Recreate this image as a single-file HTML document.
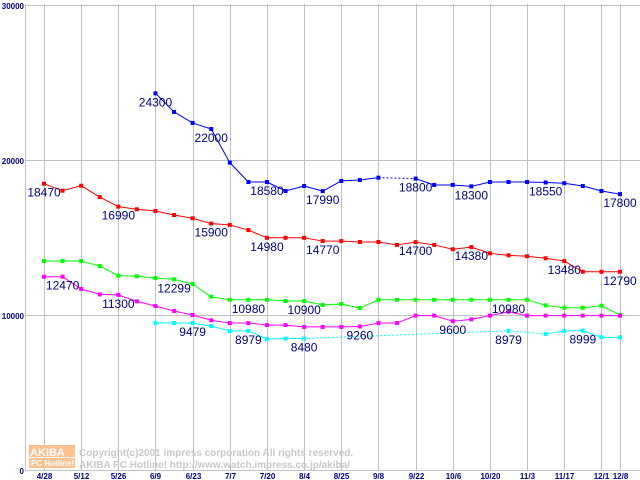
<!DOCTYPE html>
<html><head><meta charset="utf-8"><style>
html,body{margin:0;padding:0;background:#fff;}
svg{display:block;}
text{font-family:"Liberation Sans",sans-serif;}
</style></head><body>
<svg id="chart" width="640" height="480" xmlns="http://www.w3.org/2000/svg"></svg>
<script>
const categories=["4/28","5/5","5/12","5/19","5/26","6/2","6/9","6/16","6/23","6/30","7/7","7/14","7/20","7/27","8/4","8/11","8/25","9/1","9/8","9/15","9/22","9/29","10/6","10/13","10/20","10/27","11/3","11/10","11/17","11/24","12/1","12/8"];
const tickLabels=["4/28","5/12","5/26","6/9","6/23","7/7","7/20","8/4","8/25","9/8","9/22","10/6","10/20","11/3","11/17","12/1","12/8"];
const tickIndex=[0,2,4,6,8,10,12,14,16,18,20,22,24,26,28,30,31];
const yTicks=[0,10000,20000,30000];
const blueValues=[null,null,null,null,null,null,24300,23100,22390,22000,19830,18580,18580,18000,18320,17990,18650,18710,18860,null,18800,18390,18390,18300,18580,18580,18580,18550,18500,18320,18000,17800];
const redValues=[18470,18020,18340,17610,16990,16820,16710,16450,16240,15900,15810,15480,14980,14980,14980,14770,14770,14710,14710,14520,14700,14520,14240,14380,13980,13850,13790,13660,13480,12790,12790,12790];
const greenValues=[13480,13480,13480,13160,12540,12500,12390,12299,12000,11180,10980,10980,10980,10900,10900,10650,10710,10450,10980,10980,10980,10980,10980,10980,10980,10980,10980,10620,10470,10470,10600,10000];
const magentaValues=[12470,12470,11680,11330,11300,10880,10580,10260,10000,9660,9480,9480,9350,9350,9230,9230,9230,9260,9480,9480,9960,9960,9600,9720,9960,10210,9960,9960,9960,9960,9960,9960];
const cyanValues=[null,null,null,null,null,null,9480,9480,9479,9290,8970,8979,8450,8480,8480,null,null,null,null,null,null,null,null,null,null,8979,null,8770,8970,8999,8560,8560];
const seriesNames=["blue","red","green","magenta","cyan"];
const seriesColors=["#0000ff","#ff0000","#00ff00","#ff00ff","#00ffff"];
const seriesData=[blueValues,redValues,greenValues,magentaValues,cyanValues];
const labelSeries=[0,0,0,0,0,0,0,0,1,1,1,1,1,1,1,1,1,2,2,2,2,3,3,3,3,4,4,4,4,4];
const labelIndex=[6,9,12,15,20,23,27,31,0,4,9,12,15,20,23,28,31,7,11,14,25,1,4,17,22,8,11,14,25,29];

const svg=document.getElementById('chart');
const NS='http://www.w3.org/2000/svg';
const X0=44,DX=(620-44)/31,Y0=470,YTOP=5,YMAX=30000;
function xs(i){return X0+DX*i;}
function ys(v){return Y0-(v/YMAX)*(Y0-YTOP);}
function mk(tag,attrs){const e=document.createElementNS(NS,tag);for(const k in attrs)e.setAttribute(k,attrs[k]);svg.appendChild(e);return e;}

yTicks.forEach(v=>{
  const l=mk('line',{x1:25,x2:640,y1:Math.round(ys(v))+0.5,y2:Math.round(ys(v))+0.5,stroke:'#c0c0c0','stroke-width':1});
  
  
  const t=mk('text',{x:24,y:Math.round(ys(v))+4,'text-anchor':'end','font-size':8,'font-weight':'bold',fill:'#000080'});
  t.textContent=String(v);
  
  
});
const ya=mk('line',{x1:25.5,x2:25.5,y1:4,y2:471,stroke:'#c0c0c0'});


tickIndex.forEach((idx,k)=>{
  const x=Math.round(xs(idx))+0.5;
  const l=mk('line',{x1:x,x2:x,y1:4,y2:471,stroke:'#c0c0c0'});
  
  
  const t=mk('text',{x:x,y:479,'text-anchor':'middle','font-size':8,'font-weight':'bold',fill:'#000080'});
  t.textContent=tickLabels[k];
  
  
});

const r1=mk('rect',{x:29,y:445,width:46,height:12,fill:'#ffc090'});


const r2=mk('rect',{x:29,y:458,width:46,height:10,fill:'#ffc090'});


[[30,456,'AKIBA',11,'#fff'],[31,466,'PC Hotline!',8,'#fff'],[79,456,'Copyright(c)2001 impress corporation All rights reserved.',10,'#c8c8c8'],[79,468,'AKIBA PC Hotline!  http://www.watch.impress.co.jp/akiba/',10,'#c8c8c8']].forEach(a=>{
  const t=mk('text',{x:a[0],y:a[1],'font-size':a[3],'font-weight':'bold',fill:a[4],'font-family':'Liberation Mono, monospace'});
  t.textContent=a[2];
  
  
});

seriesData.forEach((arr,s)=>{
  const col=seriesColors[s];
  let prev=-1;
  for(let i=0;i<arr.length;i++){
    if(arr[i]==null)continue;
    if(prev>=0){
      const attrs={x1:xs(prev),y1:ys(arr[prev]),x2:xs(i),y2:ys(arr[i]),stroke:col,'stroke-width':1};
      if(i-prev>1)attrs['stroke-dasharray']='2,2';
      const l=mk('line',attrs);
      
      
    }
    prev=i;
  }
  for(let i=0;i<arr.length;i++){
    if(arr[i]==null)continue;
    const r=mk('rect',{x:xs(i)-2,y:ys(arr[i])-2,width:4,height:4,fill:col});
    
    
  }
});

labelSeries.forEach((s,k)=>{
  const i=labelIndex[k];const v=seriesData[s][i];
  const t=mk('text',{x:xs(i),y:ys(v)+13,'text-anchor':'middle','font-size':12,fill:'#000080'});
  t.textContent=String(v);
  
  
});
</script>
</body></html>
